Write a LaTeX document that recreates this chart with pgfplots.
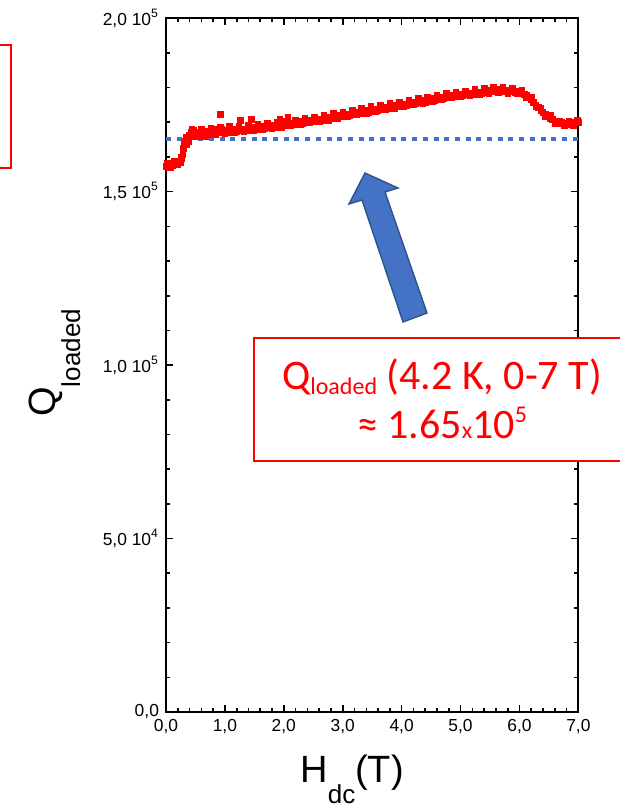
\documentclass[border=0pt]{standalone}
\usepackage{fontspec}
\setmainfont{Liberation Sans}
\newfontfamily\calib{Carlito}
\usepackage{pgfplots}
\pgfplotsset{compat=1.18}
\definecolor{OffBlue}{HTML}{4472C4}
\definecolor{DarkBlue}{HTML}{2F528F}
\begin{document}
\begin{tikzpicture}
\path[use as bounding box] (0,0) rectangle (310pt,-404pt);
\clip (0,0) rectangle (310pt,-404pt);
\begin{axis}[
  at={(83pt,-356pt)}, anchor=south west,
  scale only axis, width=206.2pt, height=346.9pt,
  xmin=0, xmax=7, ymin=0, ymax=200,
  xtick={0,1,2,3,4,5,6,7},
  xticklabels={{0,0},{1,0},{2,0},{3,0},{4,0},{5,0},{6,0},{7,0}},
  ytick={0,50,100,150,200},
  yticklabels={{0,0},{5,0 10\textsuperscript{4}},{1,0 10\textsuperscript{5}},{1,5 10\textsuperscript{5}},{2,0 10\textsuperscript{5}}},
  minor x tick num=4, minor y tick num=4,
  tick align=inside,
  major tick length=3.5pt, minor tick length=2pt,
  axis line style={line width=1pt},
  every tick/.style={black, line width=0.8pt},
  tick label style={font=\fontsize{8.7}{10}\selectfont},
  clip=false,
]
% measured Q (in units of 10^3)
\addplot[only marks, mark=square*, mark size=1.4pt, color=red] coordinates {
(0.00,157.2) (0.03,157.9) (0.06,156.9) (0.09,158.1) (0.12,157.6) (0.15,158.4) (0.18,158.0) (0.21,158.9) (0.24,158.5) (0.27,159.6)
(0.29,160.8) (0.31,163.9) (0.33,164.6) (0.35,163.5) (0.37,165.6) (0.40,166.3) (0.43,167.0) (0.46,167.6) (0.49,166.9) (0.52,167.2)
(0.55,165.8) (0.58,166.4) (0.61,165.9) (0.64,167.1) (0.67,166.6) (0.70,167.4) (0.73,166.8) (0.76,167.7) (0.79,166.5) (0.82,167.9)
(0.85,167.0) (0.88,167.5) (0.91,166.9) (0.94,168.0) (0.97,167.3) (1.00,167.8) (1.04,167.1) (1.08,168.1) (1.12,167.4) (1.16,167.9)
(1.20,167.2) (1.24,168.3) (1.28,167.6) (1.32,168.0) (1.36,167.5) (1.40,168.4) (1.44,167.9) (1.48,168.6) (1.52,168.0) (1.56,168.5)
(1.60,168.1) (1.64,168.9) (1.68,168.2) (1.72,168.7) (1.76,168.4) (1.80,169.1) (1.84,168.5) (1.88,169.0) (1.92,168.7) (1.96,169.4)
(2.00,168.9) (2.04,169.5) (2.08,169.0) (2.12,169.8) (2.16,169.3) (2.20,169.9) (2.24,169.5) (2.28,170.2) (2.32,169.6) (2.36,170.4)
(2.40,169.9) (2.44,170.6) (2.48,170.1) (2.52,170.8) (2.56,170.3) (2.60,171.0) (2.64,170.6) (2.68,171.3) (2.72,170.8) (2.76,171.4)
(2.80,171.0) (2.84,171.7) (2.88,171.2) (2.92,171.9) (2.96,171.5) (3.00,172.1) (3.04,171.6) (3.08,172.4) (3.12,171.9) (3.16,172.6)
(3.20,172.2) (3.24,172.9) (3.28,172.4) (3.32,173.1) (3.36,172.7) (3.40,173.4) (3.44,172.9) (3.48,173.6) (3.52,173.2) (3.56,173.9)
(3.60,173.4) (3.64,174.1) (3.68,173.7) (3.72,174.4) (3.76,174.0) (3.80,174.6) (3.84,174.1) (3.88,174.8) (3.92,174.4) (3.96,175.0)
(4.00,174.6) (4.04,175.2) (4.08,174.8) (4.12,175.5) (4.16,175.1) (4.20,175.7) (4.24,175.3) (4.28,176.0) (4.32,175.6) (4.36,176.3)
(4.40,175.8) (4.44,176.5) (4.48,176.1) (4.52,176.8) (4.56,176.3) (4.60,177.0) (4.64,176.6) (4.68,177.2) (4.72,176.8) (4.76,177.5)
(4.80,177.1) (4.84,177.7) (4.88,177.3) (4.92,177.9) (4.96,177.5) (5.00,178.1) (5.04,177.7) (5.08,178.3) (5.12,177.9) (5.16,178.5)
(5.20,178.1) (5.24,178.6) (5.28,178.3) (5.32,178.8) (5.36,178.4) (5.40,179.0) (5.44,178.6) (5.48,179.2) (5.52,178.7) (5.56,179.3)
(5.60,178.9) (5.64,179.4) (5.68,178.9) (5.72,179.3) (5.76,178.8) (5.80,179.2) (5.84,178.7) (5.88,179.1) (5.92,178.6) (5.96,178.9)
(6.00,178.4) (6.04,178.6) (6.08,178.0) (6.12,177.9) (6.16,177.2) (6.20,176.6) (6.24,175.8) (6.28,175.0) (6.32,174.3) (6.36,173.5)
(6.40,172.9) (6.44,172.2) (6.48,171.8) (6.52,171.2) (6.56,170.9) (6.60,170.3) (6.64,170.1) (6.68,169.7) (6.72,169.9) (6.76,169.5)
(6.80,169.8) (6.84,169.4) (6.88,169.9) (6.92,169.6) (6.96,170.1) (7.00,169.9)
(0.92,172.3) (1.26,170.5) (1.45,170.9) (1.93,171.0) (2.07,171.5)
(0.02,158.3) (0.08,157.0) (0.14,158.9) (0.20,157.8) (0.26,159.9) (0.30,162.5) (0.34,165.8) (0.38,164.5) (0.44,168.0) (0.48,166.0)
(0.52,166.4) (0.60,167.9) (0.68,165.9) (0.76,168.3) (0.84,166.4) (0.92,168.5) (1.00,166.8) (1.08,168.8) (1.16,167.0) (1.24,169.0)
(1.32,167.3) (1.40,169.1) (1.48,167.7) (1.56,169.4) (1.64,168.0) (1.72,169.6) (1.80,168.3) (1.88,169.9) (1.96,168.6) (2.04,170.3)
(2.12,168.9) (2.20,170.7) (2.28,169.3) (2.36,171.1) (2.44,169.8) (2.52,171.6) (2.60,170.2) (2.68,172.1) (2.76,170.6) (2.84,172.5)
(2.92,171.1) (3.00,173.0) (3.08,171.6) (3.16,173.5) (3.24,172.2) (3.32,174.0) (3.40,172.6) (3.48,174.5) (3.56,173.1) (3.64,175.0)
(3.72,173.6) (3.80,175.4) (3.88,174.0) (3.96,175.8) (4.04,174.4) (4.12,176.3) (4.20,175.0) (4.28,176.8) (4.36,175.5) (4.44,177.3)
(4.52,176.0) (4.60,177.8) (4.68,176.5) (4.76,178.3) (4.84,177.0) (4.92,178.7) (5.00,177.4) (5.08,179.1) (5.16,177.8) (5.24,179.4)
(5.32,178.1) (5.40,179.8) (5.48,178.4) (5.56,180.0) (5.64,178.5) (5.72,180.0) (5.80,178.4) (5.88,179.8) (5.96,178.2) (6.04,179.3)
(6.12,177.2) (6.20,177.3) (6.28,174.4) (6.36,174.2) (6.44,171.5) (6.52,171.9) (6.60,169.6) (6.68,170.4) (6.76,168.9) (6.84,170.2)
(6.92,169.0) (6.98,170.6)
};
% Q loaded level
\addplot[color=OffBlue, line width=2pt, dash pattern=on 2.5pt off 2.85pt] coordinates {(0,165.3) (7,165.3)};
\end{axis}
\begin{scope}[x=0.5pt, y=-0.5pt]
% partial box at the left edge
\draw[red, line width=0.8pt] (-60,45) rectangle (11,168);
% arrow
\draw[fill=OffBlue, draw=DarkBlue, line width=0.7pt, line join=miter]
  (365,173) -- (349,204) -- (362,200) -- (403,322) -- (427,313) -- (385,192) -- (398,188) -- cycle;
% annotation box
\draw[red, fill=white, line width=0.8pt] (254,338) rectangle (660,461);
\node[anchor=base, text=red, inner sep=0pt, font=\calib\fontsize{21}{24}\selectfont] at (442,389)
  {Q\raisebox{-2.5pt}{\fontsize{12}{12}\selectfont loaded} (4.2 K, 0-7 T)};
\node[anchor=base, text=red, inner sep=0pt, font=\calib\fontsize{21}{24}\selectfont] at (442,438)
  {≈ 1.65{\fontsize{12}{12}\selectfont x}10\raisebox{8pt}{\fontsize{12}{12}\selectfont 5}};
% axis labels
\node[anchor=base west, inner sep=0pt, font=\fontsize{19}{20}\selectfont] at (300,782)
  {H\raisebox{-10.5pt}{\fontsize{13}{14}\selectfont dc}(T)};
\node[anchor=base west, rotate=90, inner sep=0pt, font=\fontsize{19}{20}\selectfont] at (55,417)
  {Q\raisebox{-12.5pt}{\fontsize{13}{14}\selectfont loaded}};
\end{scope}
\end{tikzpicture}
\end{document}
